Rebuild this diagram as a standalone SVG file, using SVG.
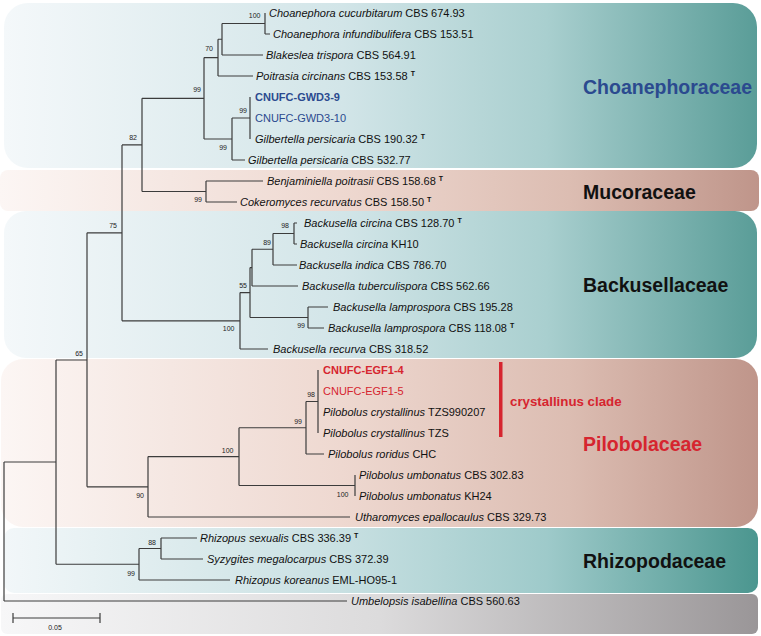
<svg xmlns="http://www.w3.org/2000/svg" width="761" height="636" viewBox="0 0 761 636">
<defs>
<linearGradient id="gTeal" x1="0" y1="0" x2="1" y2="0">
<stop offset="0" stop-color="#f4f8fa"/>
<stop offset="0.45" stop-color="#d2e5e8"/>
<stop offset="0.72" stop-color="#a9cfcf"/>
<stop offset="1" stop-color="#5a9d98"/>
</linearGradient>
<linearGradient id="gTeal2" x1="0" y1="0" x2="1" y2="0">
<stop offset="0" stop-color="#f2f7f9"/>
<stop offset="0.45" stop-color="#c8e0e2"/>
<stop offset="0.72" stop-color="#9ecaca"/>
<stop offset="1" stop-color="#4b968f"/>
</linearGradient>
<linearGradient id="gPeach" x1="0" y1="0" x2="1" y2="0">
<stop offset="0" stop-color="#fcf6f4"/>
<stop offset="0.45" stop-color="#eed8d0"/>
<stop offset="0.75" stop-color="#dcbdb2"/>
<stop offset="1" stop-color="#bf958a"/>
</linearGradient>
<linearGradient id="gGrey" x1="0" y1="0" x2="1" y2="0">
<stop offset="0" stop-color="#f7f7f8"/>
<stop offset="0.5" stop-color="#dcdbdc"/>
<stop offset="1" stop-color="#9a9698"/>
</linearGradient>
</defs>
<style>
text{font-family:"Liberation Sans",Arial,sans-serif;}
.tx{font-size:11px;fill:#111;}
.bs{font-size:7px;fill:#222;text-anchor:end;}
.fam{font-size:19.5px;font-weight:bold;}
.sup{font-size:7px;font-weight:bold;}
.br{fill:none;stroke:#3c3c3c;stroke-width:1.2;}
.blue{fill:#2b4a8f;}
.red{fill:#d6252f;}
</style>
<rect width="761" height="636" fill="#ffffff"/>
<g id="boxes">
<g id="box-choanephoraceae"><rect x="4" y="3" width="753" height="165" rx="24" fill="url(#gTeal)"/><text class="fam blue" x="583" y="94">Choanephoraceae</text></g>
<g id="box-mucoraceae"><rect x="0" y="170" width="759" height="41" rx="8" fill="url(#gPeach)"/><text class="fam" x="583" y="199" fill="#111">Mucoraceae</text></g>
<g id="box-backusellaceae"><rect x="4" y="211" width="753" height="147" rx="22" fill="url(#gTeal)"/><text class="fam" x="583" y="292" fill="#111">Backusellaceae</text></g>
<g id="box-pilobolaceae"><rect x="1" y="359" width="757" height="168" rx="22" fill="url(#gPeach)"/><text class="fam red" x="583" y="451">Pilobolaceae</text></g>
<g id="box-rhizopodaceae"><rect x="4" y="528" width="754" height="65" rx="10" fill="url(#gTeal2)"/><text class="fam" x="583" y="568" fill="#111">Rhizopodaceae</text></g>
<g id="box-outgroup"><rect x="1" y="594" width="757" height="40" rx="6" fill="url(#gGrey)"/></g>
</g>
<g id="connectors">
<path class="br" d="M4 462V601M4 462H56M4 601H347
M56 360V564.25M56 360H87M56 564.25H139
M87 232.8V486.8M87 232.8H122M87 486.8H148
M122 144.9V320.8M122 144.9H142M122 320.8H240
M142 98.3V191.5M142 98.3H204M142 191.5H206
M204 57.6V139M204 57.6H218M204 139H232
M218 39.25V76M218 39.25H222M218 76H253
M222 23.5V55M222 23.5H265M222 55H263
M265 13V34M265 34H270
M232 118V160M232 118H250M232 160H245
M250 97V139
M206 181V202M206 181H263M206 202H237
M240 292.6V349M240 292.6H250M240 349H268
M250 267.6V317.5M250 267.6H252M250 317.5H308
M252 249.25V286M252 249.25H273M252 286H298
M273 233.5V265M273 233.5H294M273 265H297
M294 223V244M294 223H297M294 244H297
M308 307V328M308 307H328M308 328H324
M148 456.6V517M148 456.6H239M148 517H350
M239 427.75V485.5M239 427.75H306M239 485.5H355
M306 401.5V454M306 401.5H318M306 454H324
M318 370V433
M355 475V496
M139 548.5V580M139 548.5H161M139 580H230
M161 538V559M161 538H197M161 559H203"/>
</g>
<g id="bootstrap">
<text class="bs" x="260.5" y="17.5">100</text>
<text class="bs" x="213" y="50.5">70</text>
<text class="bs" x="201" y="91.5">99</text>
<text class="bs" x="247" y="112.5">99</text>
<text class="bs" x="227" y="149.5">99</text>
<text class="bs" x="137" y="139.5">82</text>
<text class="bs" x="202" y="201.5">99</text>
<text class="bs" x="117" y="227.5">75</text>
<text class="bs" x="289" y="227.5">98</text>
<text class="bs" x="271" y="244.5">89</text>
<text class="bs" x="247" y="287.5">55</text>
<text class="bs" x="305" y="327.5">99</text>
<text class="bs" x="234.5" y="330.5">100</text>
<text class="bs" x="83" y="355.5">65</text>
<text class="bs" x="315" y="396.5">98</text>
<text class="bs" x="302" y="423.5">99</text>
<text class="bs" x="233.5" y="452.5">100</text>
<text class="bs" x="348.5" y="496.5">100</text>
<text class="bs" x="144" y="497.5">90</text>
<text class="bs" x="156" y="544.5">88</text>
<text class="bs" x="135" y="575.5">99</text>
</g>
<g id="taxa">
<g id="t1"><text class="tx" x="269" y="17"><tspan font-style="italic">Choanephora cucurbitarum</tspan> CBS 674.93</text></g>
<g id="t2"><text class="tx" x="273" y="38"><tspan font-style="italic">Choanephora infundibulifera</tspan> CBS 153.51</text></g>
<g id="t3"><text class="tx" x="266" y="59"><tspan font-style="italic">Blakeslea trispora</tspan> CBS 564.91</text></g>
<g id="t4"><text class="tx" x="256" y="80"><tspan font-style="italic">Poitrasia circinans</tspan> CBS 153.58 <tspan class="sup" dy="-4">T</tspan></text></g>
<g id="t5"><text class="tx blue" x="255" y="101" font-weight="bold">CNUFC-GWD3-9</text></g>
<g id="t6"><text class="tx blue" x="255" y="122">CNUFC-GWD3-10</text></g>
<g id="t7"><text class="tx" x="255" y="143"><tspan font-style="italic">Gilbertella persicaria</tspan> CBS 190.32 <tspan class="sup" dy="-4">T</tspan></text></g>
<g id="t8"><text class="tx" x="248" y="164"><tspan font-style="italic">Gilbertella persicaria</tspan> CBS 532.77</text></g>
<g id="t9"><text class="tx" x="267" y="185"><tspan font-style="italic">Benjaminiella poitrasii</tspan> CBS 158.68 <tspan class="sup" dy="-4">T</tspan></text></g>
<g id="t10"><text class="tx" x="240" y="206"><tspan font-style="italic">Cokeromyces recurvatus</tspan> CBS 158.50 <tspan class="sup" dy="-4">T</tspan></text></g>
<g id="t11"><text class="tx" x="304" y="227"><tspan font-style="italic">Backusella circina</tspan> CBS 128.70 <tspan class="sup" dy="-4">T</tspan></text></g>
<g id="t12"><text class="tx" x="300" y="248"><tspan font-style="italic">Backusella circina</tspan> KH10</text></g>
<g id="t13"><text class="tx" x="299" y="269"><tspan font-style="italic">Backusella indica</tspan> CBS 786.70</text></g>
<g id="t14"><text class="tx" x="302" y="290"><tspan font-style="italic">Backusella tuberculispora</tspan> CBS 562.66</text></g>
<g id="t15"><text class="tx" x="333" y="311"><tspan font-style="italic">Backusella lamprospora</tspan> CBS 195.28</text></g>
<g id="t16"><text class="tx" x="328" y="332"><tspan font-style="italic">Backusella lamprospora</tspan> CBS 118.08 <tspan class="sup" dy="-4">T</tspan></text></g>
<g id="t17"><text class="tx" x="273" y="353"><tspan font-style="italic">Backusella recurva</tspan> CBS 318.52</text></g>
<g id="t18"><text class="tx red" x="323" y="374" font-weight="bold">CNUFC-EGF1-4</text></g>
<g id="t19"><text class="tx red" x="323" y="395">CNUFC-EGF1-5</text></g>
<g id="t20"><text class="tx" x="323" y="416"><tspan font-style="italic">Pilobolus crystallinus</tspan> TZS990207</text></g>
<g id="t21"><text class="tx" x="323" y="437"><tspan font-style="italic">Pilobolus crystallinus</tspan> TZS</text></g>
<g id="t22"><text class="tx" x="328" y="458"><tspan font-style="italic">Pilobolus roridus</tspan> CHC</text></g>
<g id="t23"><text class="tx" x="359" y="479"><tspan font-style="italic">Pilobolus umbonatus</tspan> CBS 302.83</text></g>
<g id="t24"><text class="tx" x="359" y="500"><tspan font-style="italic">Pilobolus umbonatus</tspan> KH24</text></g>
<g id="t25"><text class="tx" x="355" y="521"><tspan font-style="italic">Utharomyces epallocaulus</tspan> CBS 329.73</text></g>
<g id="t26"><text class="tx" x="200" y="542"><tspan font-style="italic">Rhizopus sexualis</tspan> CBS 336.39 <tspan class="sup" dy="-4">T</tspan></text></g>
<g id="t27"><text class="tx" x="207" y="563"><tspan font-style="italic">Syzygites megalocarpus</tspan> CBS 372.39</text></g>
<g id="t28"><text class="tx" x="235" y="584"><tspan font-style="italic">Rhizopus koreanus</tspan> EML-HO95-1</text></g>
<g id="t29"><text class="tx" x="351" y="605"><tspan font-style="italic">Umbelopsis isabellina</tspan> CBS 560.63</text></g>
</g>
<g id="crystallinus-clade">
<rect x="499" y="362" width="3.5" height="75" fill="#d6252f"/>
<text class="red" x="510" y="405.5" font-size="13.3" font-weight="bold">crystallinus clade</text>
</g>
<g id="scale-bar">
<path class="br" d="M13 618H100M13 613V623M100 613V623"/>
<text x="55" y="629.5" font-size="7" fill="#222" text-anchor="middle">0.05</text>
</g>
</svg>
